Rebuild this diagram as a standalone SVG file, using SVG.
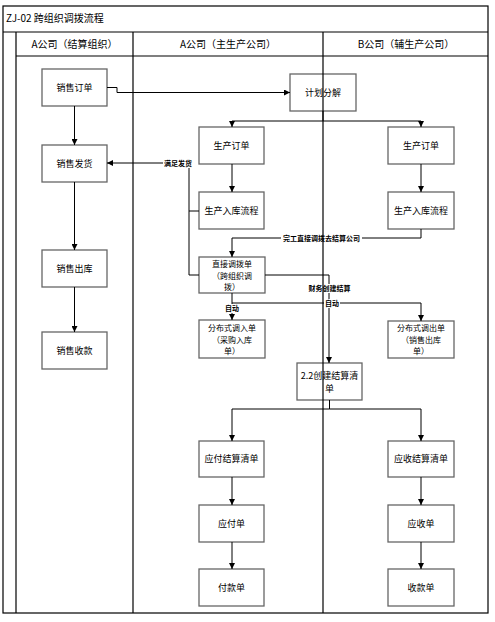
<svg xmlns="http://www.w3.org/2000/svg" width="495" height="622" viewBox="0 0 495 622">
<defs>
<marker id="ah" viewBox="0 0 10 10" refX="10" refY="5" markerWidth="6" markerHeight="6" orient="auto" markerUnits="userSpaceOnUse">
<path d="M0,0 L10,5 L0,10 z" fill="#000"/>
</marker>
<style>
.frame{fill:none;stroke:#000;stroke-width:1.2}
.box rect{fill:#fff;stroke:#666;stroke-width:1.3}
.box text{font-family:"Noto Sans CJK SC","Liberation Serif",serif;font-size:9px;fill:#000;text-anchor:middle}
.box text.ml{font-size:8px}
.hdr{font-family:"Noto Sans CJK SC","Liberation Serif",serif;font-size:10px;fill:#000;text-anchor:middle}
.ttl{font-family:"Noto Sans CJK SC","Liberation Serif",serif;font-size:10px;fill:#000}
.ln{fill:none;stroke:#000;stroke-width:1}
.arr{fill:none;stroke:#000;stroke-width:1;marker-end:url(#ah)}
.lbl{font-family:"Noto Sans CJK SC","Liberation Sans",sans-serif;font-size:7px;font-weight:bold;fill:#000;text-anchor:middle}
.lblbg{fill:#fff;stroke:none}
</style>
</defs>
<rect width="495" height="622" fill="#fff"/>
<g id="frame">
<rect class="frame" x="3" y="6" width="485" height="607"/>
<line class="frame" x1="3" y1="32" x2="488" y2="32"/>
<line class="frame" x1="16" y1="56" x2="488" y2="56"/>
<line class="frame" x1="16" y1="32" x2="16" y2="613"/>
<line class="frame" x1="133" y1="32" x2="133" y2="613"/>
<text class="ttl" x="6" y="22">ZJ-02 跨组织调拨流程</text>
<text class="hdr" x="74.5" y="48">A公司（结算组织）</text>
<text class="hdr" x="228" y="48">A公司（主生产公司）</text>
<text class="hdr" x="406" y="48">B公司（辅生产公司）</text>
</g>
<g id="n1" class="box"><rect x="42" y="69" width="65" height="37"/><text x="74.5" y="91">销售订单</text></g>
<g id="n2" class="box"><rect x="42" y="145" width="65" height="37"/><text x="74.5" y="167">销售发货</text></g>
<g id="n3" class="box"><rect x="42" y="250" width="65" height="37"/><text x="74.5" y="272">销售出库</text></g>
<g id="n4" class="box"><rect x="42" y="332" width="65" height="37"/><text x="74.5" y="354">销售收款</text></g>
<g id="n5" class="box"><rect x="290" y="74" width="66" height="37"/><text x="323" y="96">计划分解</text></g>
<g id="n6" class="box"><rect x="199" y="127" width="65" height="37"/><text x="231.5" y="149">生产订单</text></g>
<g id="n7" class="box"><rect x="199" y="192" width="65" height="37"/><text x="231.5" y="214">生产入库流程</text></g>
<g id="n8" class="box"><rect x="199" y="257" width="66" height="36"/><text class="ml" x="232" y="267"><tspan x="232">直接调拨单</tspan><tspan x="232" dy="11.7">（跨组织调</tspan><tspan x="232" dy="11.7">拨）</tspan></text></g>
<g id="n9" class="box"><rect x="199" y="320" width="66" height="38"/><text class="ml" x="232" y="331"><tspan x="232">分布式调入单</tspan><tspan x="232" dy="11.7">（采购入库</tspan><tspan x="232" dy="11.7">单）</tspan></text></g>
<g id="n10" class="box"><rect x="388" y="127" width="66" height="37"/><text x="421" y="149">生产订单</text></g>
<g id="n11" class="box"><rect x="388" y="192" width="66" height="37"/><text x="421" y="214">生产入库流程</text></g>
<g id="n12" class="box"><rect x="388" y="321" width="66" height="37"/><text class="ml" x="421" y="331"><tspan x="421">分布式调出单</tspan><tspan x="421" dy="11.7">（销售出库</tspan><tspan x="421" dy="11.7">单）</tspan></text></g>
<g id="n13" class="box"><rect x="297" y="363" width="65" height="37"/><text x="329.5" y="379"><tspan x="329.5">2.2创建结算清</tspan><tspan x="329.5" dy="13">单</tspan></text></g>
<g id="n14" class="box"><rect x="199" y="441" width="65" height="36"/><text x="231.5" y="462">应付结算清单</text></g>
<g id="n15" class="box"><rect x="199" y="505" width="65" height="37"/><text x="231.5" y="527">应付单</text></g>
<g id="n16" class="box"><rect x="199" y="569" width="65" height="37"/><text x="231.5" y="591">付款单</text></g>
<g id="n17" class="box"><rect x="388" y="441" width="66" height="36"/><text x="421" y="462">应收结算清单</text></g>
<g id="n18" class="box"><rect x="388" y="505" width="66" height="37"/><text x="421" y="527">应收单</text></g>
<g id="n19" class="box"><rect x="388" y="569" width="66" height="37"/><text x="421" y="591">收款单</text></g>
<g id="connectors">
<line class="arr" x1="74.5" y1="106" x2="74.5" y2="145"/>
<line class="arr" x1="74.5" y1="182" x2="74.5" y2="250"/>
<line class="arr" x1="74.5" y1="287" x2="74.5" y2="332"/>
<polyline class="arr" points="107,87.5 117,87.5 117,92.5 290,92.5"/>
<polyline class="ln" points="323,111 323,121"/>
<polyline class="arr" points="323,121 232,121 232,127"/>
<polyline class="arr" points="323,121 421,121 421,127"/>
<line class="arr" x1="232" y1="164" x2="232" y2="192"/>
<line class="arr" x1="421" y1="164" x2="421" y2="192"/>
<polyline class="ln" points="199,211 189,211 189,163"/>
<polyline class="ln" points="199,275 189,275 189,211"/>
<polyline class="arr" points="189,163 107,163"/>
<polyline class="arr" points="421,229 421,238 232,238 232,257"/>
<polyline class="arr" points="265,275 329,275 329,363"/>
<line class="arr" x1="232" y1="293" x2="232" y2="320"/>
<polyline class="arr" points="232,303 421,303 421,321"/>
<polyline class="ln" points="329.5,400 329.5,409"/>
<polyline class="arr" points="329.5,409 232,409 232,441"/>
<polyline class="arr" points="329.5,409 421,409 421,441"/>
<line class="arr" x1="232" y1="477" x2="232" y2="505"/>
<line class="arr" x1="232" y1="542" x2="232" y2="569"/>
<line class="arr" x1="421" y1="477" x2="421" y2="505"/>
<line class="arr" x1="421" y1="542" x2="421" y2="569"/>
<rect class="lblbg" x="163" y="159" width="30" height="9"/>
<text class="lbl" x="178" y="166">满足发货</text>
<rect class="lblbg" x="281" y="234" width="81" height="9"/>
<text class="lbl" x="321.5" y="241">完工直接调拨去结算公司</text>
<rect class="lblbg" x="307" y="284" width="45" height="9"/>
<text class="lbl" x="329.5" y="291">财务创建结算</text>
<rect class="lblbg" x="224" y="304" width="16" height="9"/>
<text class="lbl" x="232" y="311">自动</text>
<rect class="lblbg" x="324" y="299" width="16" height="9"/>
<text class="lbl" x="332" y="306">自动</text>
</g>
<g id="divider">
<line class="frame" x1="323" y1="32" x2="323" y2="613"/>
</g>
</svg>
